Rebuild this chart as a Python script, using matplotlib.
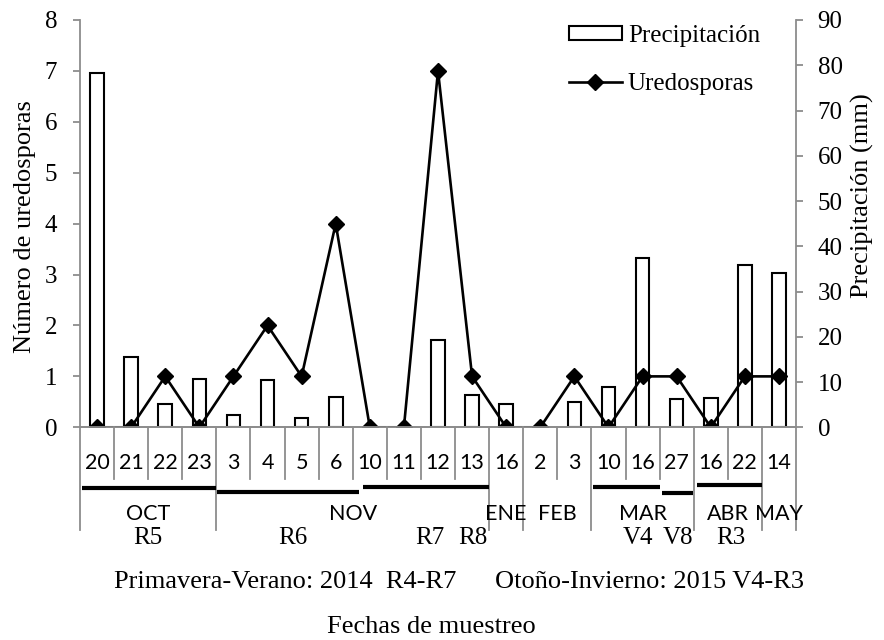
import matplotlib
matplotlib.use("Agg")
import matplotlib.pyplot as plt
import matplotlib.transforms as mtransforms
from matplotlib.lines import Line2D
from matplotlib.patches import Patch

# datos
dias = ["20", "21", "22", "23", "3", "4", "5", "6", "10", "11", "12", "13",
        "16", "2", "3", "10", "16", "27", "16", "22", "14"]
meses = ["OCT", "NOV", "ENE", "FEB", "MAR", "ABR", "MAY"]
dias_por_mes = [4, 8, 1, 2, 3, 2, 1]
uredosporas = [0, 0, 1, 0, 1, 2, 1, 4, 0, 0, 7, 1, 0, 0, 1, 0, 1, 1, 0, 1, 1]
precipitacion = [78.3, 15.5, 5.2, 10.6, 2.8, 10.4, 2.0, 6.6, 0, 0, 19.4, 7.1,
                 5.1, 0, 5.6, 8.9, 37.5, 6.2, 6.4, 35.8, 34.1]
etapas = ["R5", "R6", "R7", "R8", "V4", "V8", "R3"]
etapas_x = [1.49, 5.75, 9.76, 11.02, 15.86, 17.04, 18.59]
# tramos negros bajo las fechas (inicio, fin, desplazamiento px)
tramos = [(-0.44, 3.49, 61), (3.52, 7.68, 65), (7.8, 11.49, 60),
          (14.54, 16.5, 60), (16.57, 17.48, 66), (17.6, 19.5, 58)]

gris = "#8c8c8c"
serif = "Liberation Serif"
sans = "Lato"
fs = 18

fig = plt.figure(figsize=(8.84, 6.40), dpi=100)
ax = fig.add_axes([80 / 884, 1 - 427.3 / 640, 716 / 884, 407.3 / 640])
ax2 = ax.twinx()
ax.set_zorder(ax2.get_zorder() + 1)
ax.patch.set_visible(False)

x = list(range(len(dias)))
ax2.bar(x, precipitacion, width=0.4, facecolor="white", edgecolor="black", linewidth=1.5)
ax.plot(x, uredosporas, color="black", lw=1.9, marker="D", markersize=7.8)

ax.set_xlim(-0.5, len(dias) - 0.5)
ax.set_ylim(0, 8)
ax2.set_ylim(0, 90)
ax.set_yticks(range(0, 9))
ax2.set_yticks(range(0, 91, 10))
ax.set_xticks([])

for a in (ax, ax2):
    for s in a.spines.values():
        s.set_color(gris)
        s.set_linewidth(1.3)
    a.spines["top"].set_visible(False)
    a.tick_params(axis="y", colors=gris, length=5, width=1.3, labelsize=fs, labelcolor="black")
    for lab in a.get_yticklabels():
        lab.set_fontfamily(serif)
ax.spines["right"].set_visible(False)
ax2.spines["left"].set_visible(False)
ax.tick_params(axis="y", pad=11.5)
ax2.tick_params(axis="y", pad=10.5)

ax.set_ylabel("Número de uredosporas", fontsize=19, fontfamily=serif)
ax2.set_ylabel("Precipitación (mm)", fontsize=19, fontfamily=serif)
ax.yaxis.set_label_coords(-0.061, 0.494)
ax2.yaxis.set_label_coords(1.077, 0.570)


def abajo(px):
    return mtransforms.offset_copy(ax.get_xaxis_transform(), fig=fig, y=-px, units="dots")


# separadores de la tabla de fechas
limites_mes = [-0.5]
for n in dias_por_mes:
    limites_mes.append(limites_mes[-1] + n)
for k in range(len(dias) + 1):
    xb = k - 0.5
    largo = 103 if xb in limites_mes else 52
    ax.add_line(Line2D([xb, xb], [0, -largo / 407.3], color=gris, lw=1.3, clip_on=False,
                       transform=ax.get_xaxis_transform()))

for xi, d in zip(x, dias):
    ax.text(xi, 0, d, transform=abajo(36), ha="center", va="center",
            fontsize=15.5, fontfamily=sans)

for i, m in enumerate(meses):
    xc = (limites_mes[i] + limites_mes[i + 1]) / 2
    ax.text(xc, 0, m, transform=abajo(87), ha="center", va="center",
            fontsize=15.5, fontfamily=sans)

for x0, x1, off in tramos:
    ax.add_line(Line2D([x0, x1], [0, 0], color="black", lw=3, clip_on=False,
                       solid_capstyle="butt", transform=abajo(off)))

for xe, e in zip(etapas_x, etapas):
    ax.text(xe, 0, e, transform=abajo(111), ha="center", va="center",
            fontsize=fs, fontfamily=serif)

ax.text(5.51, 0, "Primavera-Verano: 2014  R4-R7", transform=abajo(155),
        ha="center", va="center", fontsize=19, fontfamily=serif)
ax.text(16.2, 0, "Otoño-Invierno: 2015 V4-R3", transform=abajo(155),
        ha="center", va="center", fontsize=19, fontfamily=serif)
ax.text(9.82, 0, "Fechas de muestreo", transform=abajo(200),
        ha="center", va="center", fontsize=19, fontfamily=serif)

handles = [Patch(facecolor="white", edgecolor="black", linewidth=1.5),
           Line2D([], [], color="black", lw=1.9, marker="D", markersize=7.8)]
ax.legend(handles, ["Precipitación", "Uredosporas"], loc="upper left",
          bbox_to_anchor=(569 / 884, 1 - 25 / 640), bbox_transform=fig.transFigure,
          frameon=False, prop={"family": serif, "size": fs},
          handlelength=2.1, handleheight=0.48, handletextpad=0.25,
          labelspacing=1.05, borderaxespad=0, borderpad=0)

fig.savefig("out.png", dpi=100)
